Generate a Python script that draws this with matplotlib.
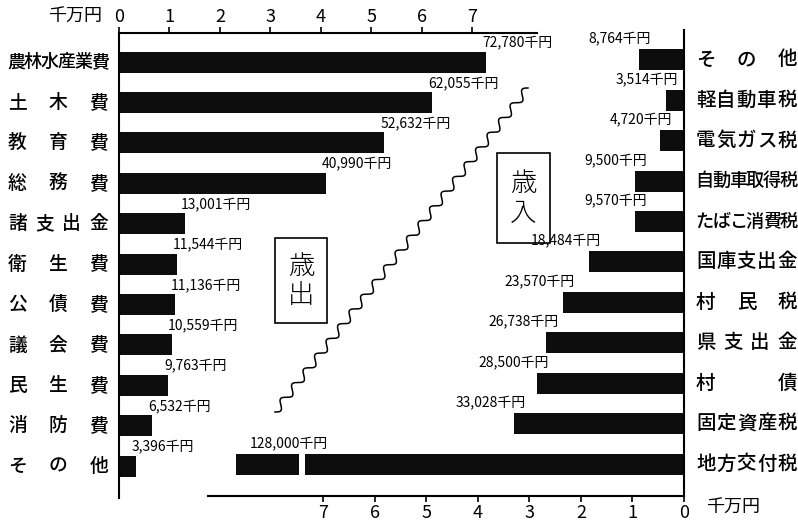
import numpy as np
import matplotlib.pyplot as plt
from matplotlib.transforms import blended_transform_factory
from matplotlib.patches import Rectangle

plt.rcParams['font.family'] = ['Noto Sans CJK JP', 'DejaVu Sans']

# 歳出 (expenditure), 千円
out_labels = ['農林水産業費', '土木費', '教育費', '総務費', '諸支出金', '衛生費',
              '公債費', '議会費', '民生費', '消防費', 'その他']
out_values = [72780, 62055, 52632, 40990, 13001, 11544, 11136, 10559, 9763, 6532, 3396]

# 歳入 (revenue), 千円
in_labels = ['その他', '軽自動車税', '電気ガス税', '自動車取得税', 'たばこ消費税', '国庫支出金',
             '村民税', '県支出金', '村債', '固定資産税', '地方交付税']
in_values = [8764, 3514, 4720, 9500, 9570, 18484, 23570, 26738, 28500, 33028, 128000]

tick_vals = [0, 1, 2, 3, 4, 5, 6, 7]
unit = 10000  # 千円 -> 千万円
cap = 8.7     # broken bar shown length (千万円)
gap = (7.35, 7.47)

W, H = 798, 521
fig = plt.figure(figsize=(W / 100, H / 100), dpi=100)


def px_rect(x0, y0, x1, y1):
    return [x0 / W, 1 - y1 / H, (x1 - x0) / W, (y1 - y0) / H]


deco = fig.add_axes([0, 0, 1, 1])
deco.set_xlim(0, W)
deco.set_ylim(H, 0)
deco.axis('off')

ax_out = fig.add_axes(px_rect(119, 33, 537, 498), facecolor='none')
ax_in = fig.add_axes(px_rect(208, 30, 684, 496), facecolor='none')

bar_c = '#0d0d0d'
rows = np.arange(len(out_labels))

# --- expenditure side
v_out = np.array(out_values) / unit
ax_out.barh(rows, v_out, height=0.52, color=bar_c)
ax_out.set_xlim(0, 8.29)
ax_out.set_ylim(10.79, -0.72)
ax_out.xaxis.tick_top()
ax_out.set_xticks(tick_vals)
ax_out.set_yticks([])
for s in ['right', 'bottom']:
    ax_out.spines[s].set_visible(False)
for s in ['left', 'top']:
    ax_out.spines[s].set_linewidth(1.5)
ax_out.tick_params(axis='x', labelsize=13, length=4, width=1.2, pad=1)
for i, v in enumerate(out_values):
    ax_out.annotate(f'{v:,}千円', (v / unit, i - 0.46), xytext=(-4, 0),
                    textcoords='offset pixels', ha='left', va='center', fontsize=10)

# --- revenue side
v_in = np.array(in_values) / unit
shown = np.minimum(v_in, cap)
ax_in.barh(rows, shown, height=0.52, color=bar_c)
for i, v in enumerate(v_in):
    if v > cap:
        ax_in.barh(i, gap[1] - gap[0], left=gap[0], height=0.62, color='white')
ax_in.set_xlim(9.24, 0)
ax_in.set_ylim(10.79, -0.74)
ax_in.set_xticks(tick_vals)
ax_in.set_yticks([])
for s in ['left', 'top']:
    ax_in.spines[s].set_visible(False)
for s in ['right', 'bottom']:
    ax_in.spines[s].set_linewidth(1.5)
ax_in.tick_params(axis='x', labelsize=13, length=4, width=1.2, pad=2)
for i, (v, s) in enumerate(zip(in_values, shown)):
    if v / unit > cap:
        ax_in.annotate(f'{v:,}千円', (s, i - 0.5), xytext=(14, 0),
                       textcoords='offset pixels', ha='left', va='center', fontsize=10)
    else:
        ax_in.annotate(f'{v:,}千円', (s, i - 0.5), xytext=(12, 0),
                       textcoords='offset pixels', ha='right', va='center', fontsize=10)


# category names spread evenly over a fixed width
def spread(ax, text, row, x0, x1, max_pt):
    tr = blended_transform_factory(deco.transData, ax.transData)
    n = len(text)
    cell = (x1 - x0) / n
    size_px = min(max_pt * 100 / 72, cell * 1.08)
    half = min(size_px, cell) / 2
    xs = np.linspace(x0 + half, x1 - half, n) if n > 1 else [(x0 + x1) / 2]
    for ch, x in zip(text, xs):
        ax.text(x, row, ch, transform=tr, ha='center', va='center',
                fontsize=size_px * 72 / 100, fontweight='medium')


for i, lab in enumerate(out_labels):
    spread(ax_out, lab, i, 8, 108, 13.5)
for i, lab in enumerate(in_labels):
    spread(ax_in, lab, i, 696, 797, 14)

deco.text(75, 17, '千万円', fontsize=13, ha='center', va='center')
deco.text(733, 508, '千万円', fontsize=13, ha='center', va='center')

# wavy divider
p0 = np.array([275.0, 412.0])
p1 = np.array([528.0, 88.0])
d = p1 - p0
L = np.hypot(*d)
perp = np.array([-d[1], d[0]]) / L
t = np.linspace(0, 1, 1200)
pts = p0[None, :] + t[:, None] * d[None, :] + 3.8 * np.sin(2 * np.pi * 22 * t)[:, None] * perp[None, :]
deco.plot(pts[:, 0], pts[:, 1], color='black', lw=1.1)

# boxed titles
for (x0, y0, x1, y1), txt in [((275, 238, 327, 323), '歳\n出'),
                              ((497, 153, 550, 243), '歳\n入')]:
    deco.add_patch(Rectangle((x0, y0), x1 - x0, y1 - y0, fill=False, lw=1.2, color='black'))
    deco.text((x0 + x1) / 2, (y0 + y1) / 2, txt, ha='center', va='center',
              fontsize=19, linespacing=1.05, fontweight='light')

fig.savefig('out.png', dpi=100)
